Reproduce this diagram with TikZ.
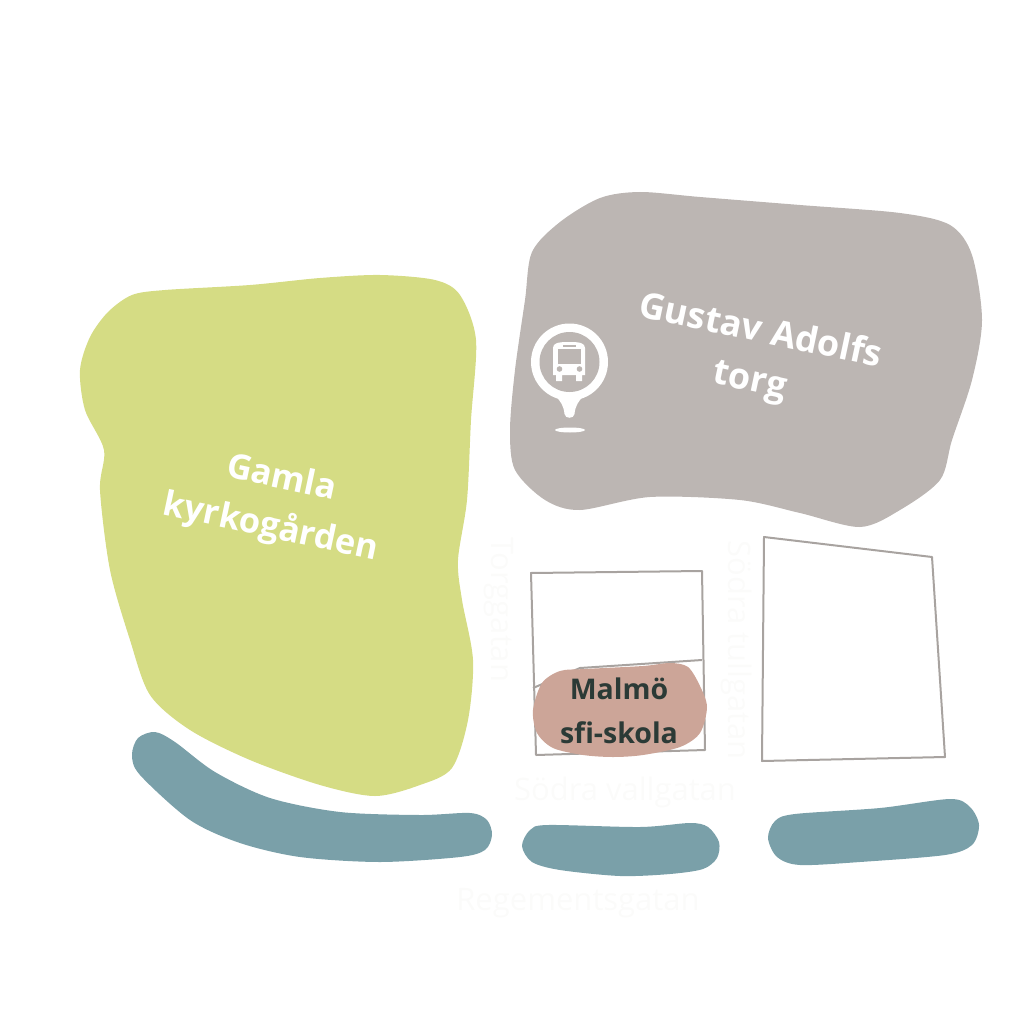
\documentclass[tikz,border=0pt]{standalone}
\usepackage{fontspec}
\setmainfont[Ligatures=NoCommon]{Open Sans}
\definecolor{mgreen}{HTML}{D5DC84}
\definecolor{mgrey}{HTML}{BCB6B3}
\definecolor{mteal}{HTML}{7AA0A9}
\definecolor{mpink}{HTML}{CCA598}
\definecolor{mdark}{HTML}{2B3A36}
\definecolor{mline}{HTML}{A8A3A0}
\definecolor{mfaint}{HTML}{FBFBFA}
\tikzset{blob/.style = {smooth cycle, tension=0.5}}
\tikzset{house/.style = {draw=mline, line width=2pt, line join=round}}
\tikzset{placename/.style = {text=white, font=\bfseries\fontsize{34.5}{50}\selectfont, align=center}}
\tikzset{schoolname/.style = {text=mdark, font=\bfseries\fontsize{28.5}{44}\selectfont, align=center}}
\tikzset{streetname/.style = {text=mfaint, font=\fontsize{31}{34}\selectfont}}
\begin{document}
\begin{tikzpicture}[x=1pt, y=-1pt]
      \useasboundingbox (0, 0) rectangle (1024, 1024);

      % parks and squares
      \fill [mgreen] plot [blob] coordinates {(380,275) (435,280) (460,295) (476,340) (471,420) (467,500) (458,560) (462,600) (473,660) (468,720) (452,768) (420,785) (375,796) (320,785) (250,760) (190,730) (150,695) (130,640) (110,570) (100,490) (104,450) (85,410) (80,370) (90,337) (108,312) (132,295) (165,290) (250,285) (320,278)};
      \fill [mgrey] plot [blob] coordinates {(532,252) (560,222) (600,198) (640,192) (700,197) (800,205) (900,213) (950,225) (972,255) (982,320) (972,380) (952,440) (940,480) (900,510) (860,527) (800,513) (740,500) (650,497) (580,510) (545,500) (515,470) (510,430) (515,370) (525,300)};

      % streets
      \fill [mteal] plot [blob] coordinates {(132,755) (138,738) (155,732) (175,742) (215,772) (270,798) (340,812) (420,815) (470,813) (487,820) (492,835) (485,850) (460,857) (380,862) (300,857) (240,843) (190,820) (140,775)};
      \fill [mteal] plot [blob] coordinates {(522,846) (530,830) (548,825) (640,827) (690,823) (708,827) (719,842) (717,858) (703,869) (670,874) (620,876) (560,870) (532,862)};
      \fill [mteal] plot [blob] coordinates {(768,838) (775,821) (795,814) (880,808) (950,799) (970,807) (979,825) (972,845) (945,855) (860,862) (800,865) (777,857)};

      % houses
      \draw [house] (531, 573) -- (702, 571) -- (705, 750) -- (536, 755) -- cycle;
      \draw [house] (533, 688) -- (580, 668) -- (702, 660);
      \draw [house] (764, 537) -- (932, 557) -- (945, 757) -- (762, 761) -- cycle;
      \fill [mpink] plot [blob] coordinates {(533,710) (542,683) (560,671) (585,669) (643,666) (670,663) (688,667) (700,686) (707,707) (700,733) (680,747) (643,755) (613,757) (583,755) (553,748) (537,733)};

      % bus stop
      \fill [white] (569.5, 362) circle (38.5);
      \fill [white] (543, 380) .. controls (550, 395) and (563, 397) .. (564.5, 414) .. controls (565, 419) and (574, 419) .. (574.5, 414) .. controls (576, 397) and (589, 395) .. (596, 380) -- cycle;
      \fill [mgrey] (569.5, 362) circle (30);
      \fill [white] (553, 348) .. controls (553, 343) and (558, 342) .. (569, 342) .. controls (580, 342) and (585, 343) .. (585, 348) -- (585, 375) -- (582, 375) -- (582, 381) -- (576, 381) -- (576, 375) -- (562, 375) -- (562, 381) -- (556, 381) -- (556, 375) -- (553, 375) -- cycle;
      \fill [mgrey] (558, 349) -- (581, 349) -- (581, 364) -- (558, 364) -- cycle;
      \fill [mgrey] (563, 344.5) rectangle (576, 346.5);
      \fill [mgrey] (559.5, 369) circle (2.8);
      \fill [mgrey] (579.5, 369) circle (2.8);
      \fill [white] (570, 430) ellipse (15 and 2.5);

      \node [placename, rotate=-12] (gamla) at (276, 504) {Gamla\\kyrkogården};
      \node [placename, rotate=-12, font=\bfseries\fontsize{36}{50}\selectfont] (torg) at (755, 357) {Gustav Adolfs\\torg};
      \node [schoolname] (sfi) at (619, 711) {Malmö\\sfi-skola};

      \node [streetname, rotate=-90] (torggatan) at (499, 610) {Torggatan};
      \node [streetname, rotate=-90] (tullgatan) at (737, 650) {Södra tullgatan};
      \node [streetname] (vallgatan) at (625, 792) {Södra vallgatan};
      \node [streetname] (regementsgatan) at (578, 903) {Regementsgatan};
    \end{tikzpicture}
\end{document}
